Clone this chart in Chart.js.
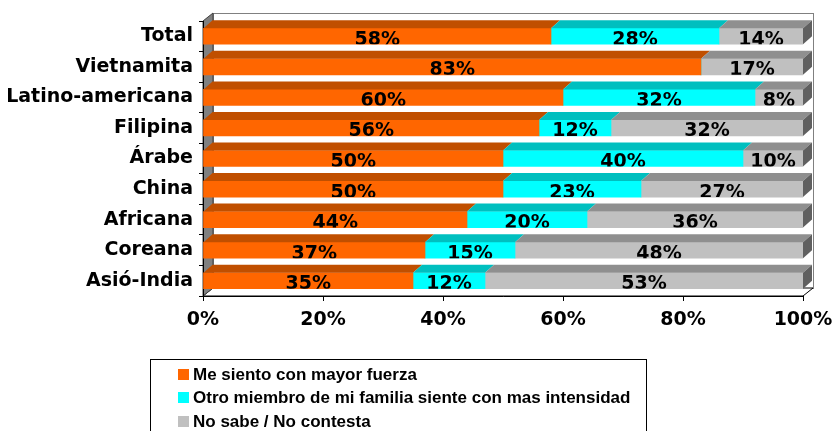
<!DOCTYPE html>
<html>
<head>
<meta charset="utf-8">
<script src="https://cdn.jsdelivr.net/npm/chart.js@4.4.0/dist/chart.umd.min.js"></script>
<style>
  html, body { margin: 0; padding: 0; background: #fff; }
  #wrap { width: 836px; height: 431px; }
</style>
</head>
<body>
<div id="wrap"><canvas id="chartBar" width="836" height="431"></canvas></div>
<script>
// groups and answer shares (%)
const groups = ["Total", "Vietnamita", "Latino-americana", "Filipina", "Árabe", "China", "Africana", "Coreana", "Asió-India"];
const mayorFuerza = [58, 83, 60, 56, 50, 50, 44, 37, 35];
const otroMiembro = [28, 0, 32, 12, 40, 23, 20, 15, 12];
const noSabe = [14, 17, 8, 32, 10, 27, 36, 48, 53];
const xTicks = [0, 20, 40, 60, 80, 100];
const seriesNames = [
    "Me siento con mayor fuerza",
    "Otro miembro de mi familia siente con mas intensidad",
    "No sabe / No contesta"
];

const frontColors = ["#FF6600", "#00FFFF", "#C0C0C0"];
const topColors = ["#C04F00", "#00BFBF", "#8F8F8F"];
const sideColor = "#606060";
const bold = "bold 19px 'DejaVu Sans'";

// depth of the bars and of the walls
const bar3d = { dx: 9, dy: 8 };
const wall3d = { dx: 10, dy: 8 };

//walls, floor and back panel
const walls = {
    id: 'walls',
    beforeDraw(chart) {
        const { ctx, chartArea: a } = chart;
        ctx.save();
        ctx.lineWidth = 1;
        // back wall
        ctx.fillStyle = '#fff';
        ctx.strokeStyle = '#808080';
        ctx.strokeRect(Math.round(a.left + wall3d.dx) + 0.5, Math.round(a.top - wall3d.dy) + 0.5,
            a.right - a.left, a.bottom - a.top);
        // floor
        ctx.beginPath();
        ctx.moveTo(a.left, a.bottom);
        ctx.lineTo(a.right, a.bottom);
        ctx.lineTo(a.right + wall3d.dx, a.bottom - wall3d.dy);
        ctx.lineTo(a.left + wall3d.dx, a.bottom - wall3d.dy);
        ctx.closePath();
        ctx.fill();
        ctx.strokeStyle = '#000';
        ctx.stroke();
        // left wall
        ctx.beginPath();
        ctx.moveTo(a.left, a.bottom);
        ctx.lineTo(a.left, a.top);
        ctx.lineTo(a.left + wall3d.dx, a.top - wall3d.dy);
        ctx.lineTo(a.left + wall3d.dx, a.bottom - wall3d.dy);
        ctx.closePath();
        ctx.fillStyle = '#808080';
        ctx.fill();
        ctx.strokeStyle = '#404040';
        ctx.stroke();
        ctx.restore();
    }
};

//top and side faces of the bars, then the value labels
const bars3d = {
    id: 'bars3d',
    afterDatasetsDraw(chart) {
        const ctx = chart.ctx;
        const { dx, dy } = bar3d;
        ctx.save();
        chart.data.datasets.forEach((ds, di) => {
            const meta = chart.getDatasetMeta(di);
            meta.data.forEach((el, i) => {
                if (!ds.data[i]) return;
                const p = el.getProps(['x', 'y', 'base', 'height'], true);
                const top = p.y - p.height / 2;
                const bottom = p.y + p.height / 2;
                ctx.fillStyle = topColors[di];
                ctx.beginPath();
                ctx.moveTo(p.base, top);
                ctx.lineTo(p.x, top);
                ctx.lineTo(p.x + dx, top - dy);
                ctx.lineTo(p.base + dx, top - dy);
                ctx.closePath();
                ctx.fill();
                // right end of the row
                const later = chart.data.datasets.slice(di + 1).some(d => d.data[i] > 0);
                if (!later) {
                    ctx.fillStyle = sideColor;
                    ctx.beginPath();
                    ctx.moveTo(p.x, top);
                    ctx.lineTo(p.x + dx, top - dy);
                    ctx.lineTo(p.x + dx, bottom - dy);
                    ctx.lineTo(p.x, bottom);
                    ctx.closePath();
                    ctx.fill();
                }
            });
        });

        ctx.font = bold;
        ctx.fillStyle = '#000';
        ctx.textAlign = 'center';
        ctx.textBaseline = 'alphabetic';
        chart.data.datasets.forEach((ds, di) => {
            const meta = chart.getDatasetMeta(di);
            meta.data.forEach((el, i) => {
                if (!ds.data[i]) return;
                const p = el.getProps(['x', 'y', 'base', 'height'], true);
                const top = p.y - p.height / 2;
                const bottom = p.y + p.height / 2;
                ctx.save();
                ctx.beginPath();
                ctx.rect(chart.chartArea.left, top, chart.chartArea.right - chart.chartArea.left, bottom - top);
                ctx.clip();
                ctx.fillText(ds.data[i] + '%', (p.base + p.x) / 2, bottom + 0.5);
                ctx.restore();
            });
        });
        ctx.restore();
    }
};

//boxed legend under the axis
const boxLegend = {
    id: 'boxLegend',
    afterDraw(chart) {
        const ctx = chart.ctx;
        ctx.save();
        ctx.strokeStyle = '#000';
        ctx.lineWidth = 1;
        ctx.strokeRect(150.5, 359.5, 496, 100);
        ctx.font = "bold 17px 'Liberation Sans'";
        ctx.textBaseline = 'middle';
        ctx.textAlign = 'left';
        chart.data.datasets.forEach((ds, di) => {
            const y = 374 + di * 23.5;
            ctx.fillStyle = ds.backgroundColor;
            ctx.fillRect(178, Math.round(y - 5.5), 11, 11);
            ctx.fillStyle = '#000';
            ctx.fillText(ds.label, 193, y + 1);
        });
        ctx.restore();
    }
};

const dataBarChart = {
    labels: groups,
    datasets: [mayorFuerza, otroMiembro, noSabe].map((values, k) => ({
        label: seriesNames[k],
        data: values,
        backgroundColor: frontColors[k],
        borderWidth: 0,
        barThickness: 16
    }))
};

const configBarChart = {
    type: "bar",
    data: dataBarChart,
    options: {
        indexAxis: 'y',
        responsive: false,
        animation: false,
        devicePixelRatio: 1,
        layout: { padding: { left: 0, top: 21, right: 33, bottom: 0 } },
        plugins: {
            legend: { display: false },
            tooltip: { enabled: false }
        },
        scales: {
            x: {
                stacked: true,
                min: 0,
                max: 100,
                afterFit: s => {
                    s.height = 135;
                    s.paddingLeft = 0;
                    s.paddingRight = 0;
                },
                afterBuildTicks: s => { s.ticks = xTicks.map(v => ({ value: v })); },
                border: { color: '#000' },
                grid: { drawOnChartArea: false, tickLength: 5, color: '#000' },
                ticks: {
                    color: '#000',
                    font: { family: 'DejaVu Sans', size: 19, weight: 'bold' },
                    padding: 8,
                    maxRotation: 0,
                    callback: v => v + '%'
                }
            },
            y: {
                stacked: true,
                afterFit: s => { s.width = 203; },
                border: { color: '#000' },
                grid: { drawOnChartArea: false, tickLength: 4, color: '#000', offset: true },
                ticks: {
                    color: '#000',
                    font: { family: 'DejaVu Sans', size: 19, weight: 'bold' },
                    padding: 6
                }
            }
        }
    },
    plugins: [walls, bars3d, boxLegend]
};

var chartBar = new Chart(
    document.getElementById("chartBar"),
    configBarChart
);
</script>
</body>
</html>
